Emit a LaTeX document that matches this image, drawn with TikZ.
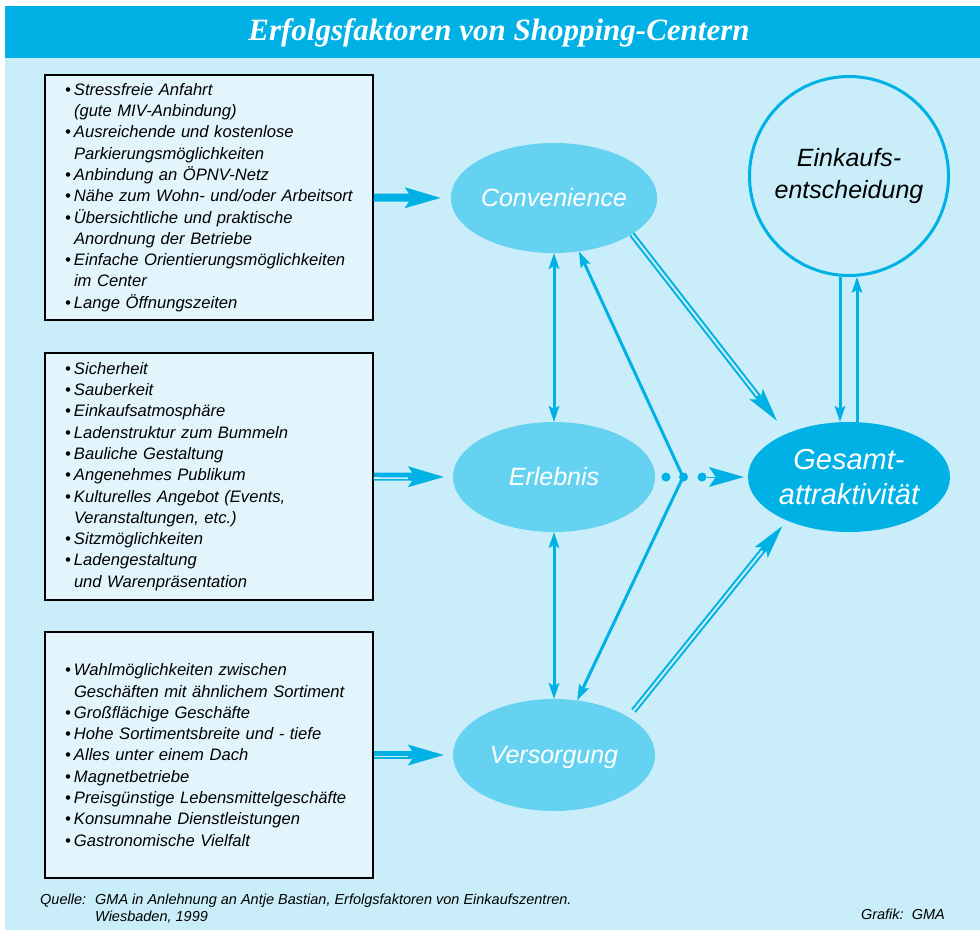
\documentclass[tikz,border=0pt]{standalone}
\usepackage{fontspec}
\setmainfont{Liberation Sans}
\newfontfamily\titlefont{Liberation Serif}
\usetikzlibrary{arrows.meta,shapes.geometric,calc}
\definecolor{bgcol}{HTML}{C9EEF9}
\definecolor{boxcol}{HTML}{E3F5FC}
\definecolor{titlecol}{HTML}{00B1E5}
\definecolor{ellcol}{HTML}{66D2F1}
\definecolor{arrowcol}{HTML}{00B1E5}
\newcommand\bitem{\makebox[9pt][l]{\textbullet}}
\newcommand\bcont{\hspace*{9pt}}
\begin{document}
\begin{tikzpicture}[x=1pt,y=-1pt,
  ell/.style={ellipse, fill=ellcol, minimum width=202pt, minimum height=110pt, inner sep=0pt,
    text=white, font=\itshape\fontsize{25}{30}\selectfont, text height=17.9pt, text depth=0pt},
  listbox/.style={draw=black, line width=1.5pt, fill=boxcol, inner xsep=20pt, inner ysep=0pt,
    text width=288pt, align=left, font=\itshape\fontsize{16.6}{21.3}\selectfont},
  bigarr/.style={draw=arrowcol, line width=8pt, -{Stealth[length=36pt,width=21pt,inset=7pt,line width=0pt]}},
  hstripe/.style={draw=bgcol, line width=1.6pt},
  dblarr/.style={draw=arrowcol, line width=6pt, -{Stealth[length=34pt,width=17pt,inset=7pt,line width=0pt]}},
  dstripe/.style={draw=bgcol, line width=2pt},
  thinarr/.style={draw=arrowcol, line width=3pt,
    {Stealth[length=16pt,width=11pt,inset=3pt,line width=0pt]}-{Stealth[length=16pt,width=11pt,inset=3pt,line width=0pt]}},
  onearr/.style={draw=arrowcol, line width=3pt, -{Stealth[length=16pt,width=11pt,inset=3pt,line width=0pt]}},
  dotnode/.style={circle, fill=arrowcol, minimum size=9pt, inner sep=0pt},
  foot/.style={font=\itshape\fontsize{14.5}{17}\selectfont, inner sep=0pt}
]
\useasboundingbox (0,0) rectangle (980,930);
\fill[white] (0,0) rectangle (980,930);
\fill[bgcol] (5,58) rectangle (980,930);
\fill[titlecol] (5,6) rectangle (980,58);
\node[anchor=base, text=white, inner sep=0pt, font=\titlefont\bfseries\itshape\fontsize{31}{36}\selectfont] (title) at (499,40) {Erfolgsfaktoren von Shopping-Centern};

% boxes
\node[listbox, minimum height=245pt] (b1) at (209,197.5) {%
\bitem Stressfreie Anfahrt\\
\bcont(gute MIV-Anbindung)\\
\bitem Ausreichende und kostenlose\\
\bcont Parkierungsmöglichkeiten\\
\bitem Anbindung an ÖPNV-Netz\\
\bitem Nähe zum Wohn- und/oder Arbeitsort\\
\bitem Übersichtliche und praktische\\
\bcont Anordnung der Betriebe\\
\bitem Einfache Orientierungsmöglichkeiten\\
\bcont im Center\\
\bitem Lange Öffnungszeiten};
\node[listbox, minimum height=247pt] (b2) at (209,476.5) {%
\bitem Sicherheit\\
\bitem Sauberkeit\\
\bitem Einkaufsatmosphäre\\
\bitem Ladenstruktur zum Bummeln\\
\bitem Bauliche Gestaltung\\
\bitem Angenehmes Publikum\\
\bitem Kulturelles Angebot (Events,\\
\bcont Veranstaltungen, etc.)\\
\bitem Sitzmöglichkeiten\\
\bitem Ladengestaltung\\
\bcont und Warenpräsentation};
\node[listbox, minimum height=246pt] (b3) at (209,755) {%
\bitem Wahlmöglichkeiten zwischen\\
\bcont Geschäften mit ähnlichem Sortiment\\
\bitem Großflächige Geschäfte\\
\bitem Hohe Sortimentsbreite und - tiefe\\
\bitem Alles unter einem Dach\\
\bitem Magnetbetriebe\\
\bitem Preisgünstige Lebensmittelgeschäfte\\
\bitem Konsumnahe Dienstleistungen\\
\bitem Gastronomische Vielfalt};

% ellipses
\node[ell] (conv) at (554,198) {Convenience};
\node[ell] (erl) at (554,477) {Erlebnis};
\node[ell, minimum height=112pt] (vers) at (554,755) {Versorgung};
\node[ell, fill=arrowcol, text height=, text depth=, align=center,
  font=\itshape\fontsize{29}{35}\selectfont] (ges) at (849,477) {Gesamt-\\attraktivität};
\node[circle, draw=arrowcol, line width=3pt, minimum size=199pt, inner sep=0pt, align=center,
  font=\itshape\fontsize{25}{32}\selectfont] (ein) at (849,176) {Einkaufs-\\entscheidung};

% box arrows
\draw[bigarr, shorten >=10pt] (b1.east) -- (conv.west);
\draw[bigarr, shorten >=9pt] (b2.east) -- (erl.west);
\draw[hstripe, shorten >=45pt] ([yshift=-1.5pt]b2.east) -- ([yshift=-1.5pt]erl.west);
\draw[bigarr, shorten >=9pt] (b3.east) -- (vers.west);
\draw[hstripe, shorten >=45pt] ([yshift=-1.5pt]b3.east) -- ([yshift=-1.5pt]vers.west);

% vertical connections
\draw[thinarr] (conv.south) -- (erl.north);
\draw[thinarr] (erl.south) -- (vers.north);
\coordinate (vtx) at (683,477);
\draw[thinarr, line join=miter] (conv.-65) -- (vtx) -- (vers.67);

% dots
\node[dotnode] (d1) at (666,477) {};
\node[dotnode] (d2) at (683.5,477) {};
\node[dotnode] (d3) at (702,477) {};
\draw[draw=arrowcol, line width=1pt, shorten >=4pt,
  -{Stealth[length=35pt,width=20pt,inset=7pt,line width=0pt]}] (d3.east) -- (ges.west);

% diagonal double arrows
\draw[dblarr, shorten >=16pt] (conv.-25) -- (ges.145);
\draw[dstripe, shorten >=48pt] (conv.-25) -- (ges.145);
\draw[dblarr, shorten <=8pt, shorten >=7pt] (vers.27) -- (ges.215);
\draw[dstripe, shorten <=8pt, shorten >=39pt] (vers.27) -- (ges.215);

% Einkauf <-> Gesamt
\draw[onearr] ([xshift=-9pt]ein.south) -- ([xshift=-9pt]ges.north);
\draw[onearr] ([xshift=8pt]ges.north) -- ([xshift=8pt]ein.south);

% footer
\node[foot, anchor=base west] (q1) at (40,904) {Quelle:};
\node[foot, anchor=base west] (q2) at (95,904) {GMA in Anlehnung an Antje Bastian, Erfolgsfaktoren von Einkaufszentren.};
\node[foot, anchor=base west] (q3) at (95,921) {Wiesbaden, 1999};
\node[foot, anchor=base east] (gr) at (945,919) {Grafik:\ \ GMA};
\end{tikzpicture}
\end{document}
